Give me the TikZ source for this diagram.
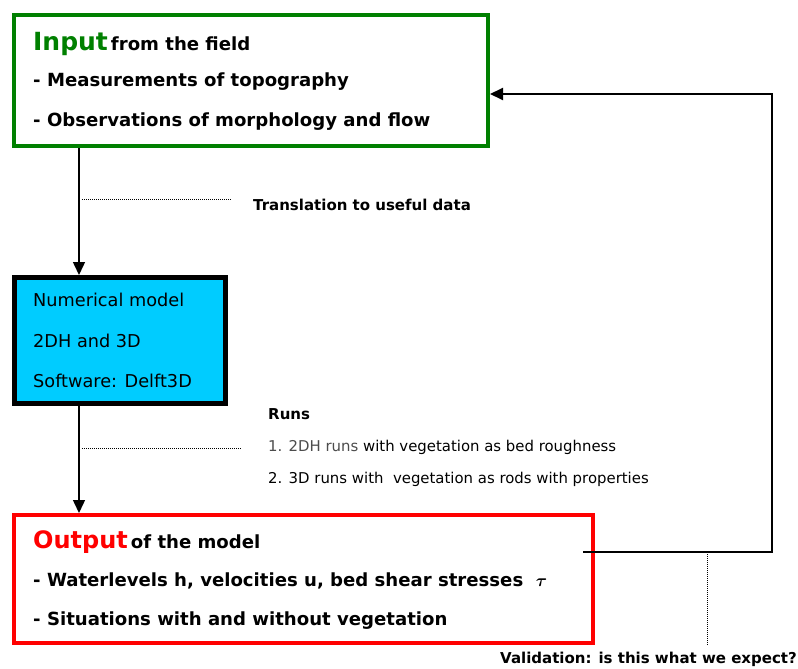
\documentclass[tikz,border=0pt]{standalone}
\usepackage{fontspec}
\setmainfont{DejaVu Sans}
\usetikzlibrary{arrows.meta}
\definecolor{ingreen}{RGB}{0,128,0}
\definecolor{outred}{RGB}{255,0,0}
\definecolor{modelblue}{RGB}{0,204,255}
\tikzset{
  txt/.style={anchor=west, inner sep=0pt, font=\bfseries\fontsize{18.1}{20}\selectfont},
  mtxt/.style={anchor=west, inner sep=0pt, font=\fontsize{17.7}{20}\selectfont},
  small/.style={anchor=west, inner sep=0pt, font=\fontsize{14.9}{16}\selectfont},
  smallb/.style={anchor=west, inner sep=0pt, font=\bfseries\fontsize{15}{16}\selectfont},
  flow/.style={line width=1.5pt, -{Triangle[length=13pt,width=12pt]}},
  note/.style={line width=1pt, dash pattern=on 1pt off 1pt}
}
\begin{document}
\begin{tikzpicture}[x=1pt,y=-1pt]
\useasboundingbox (0,0) rectangle (798,669);
% boxes
\node[draw=ingreen, line width=4pt, minimum width=474pt, minimum height=131pt] (input) at (251,80.5){};
\node[draw=black, fill=modelblue, line width=5pt, minimum width=211pt, minimum height=126pt] (model) at (120,340.5){};
\node[draw=outred, line width=4pt, minimum width=579pt, minimum height=128pt] (output) at (303.5,579){};
% texts in the boxes
\node[txt] (t1) at (33,44){\textcolor{ingreen}{\fontsize{25}{26}\selectfont Input}\,from the field};
\node[txt] (t2) at (33,82){- Measurements of topography};
\node[txt] (t3) at (33,122){- Observations of morphology and flow};
\node[mtxt] (m1) at (33,300){Numerical model};
\node[mtxt] (m2) at (33,341){2DH and 3D};
\node[mtxt] (m3) at (33,381){Software: Delft3D};
\node[txt] (o1) at (33,542){\textcolor{outred}{\fontsize{24}{26}\selectfont Output}\,of the model};
\node[txt] (o2) at (33,581){- Waterlevels h, velocities u, bed shear stresses ~{\boldmath$\tau$}};
\node[txt] (o3) at (33,621){- Situations with and without vegetation};
% side notes
\node[smallb] (trans) at (253,205){Translation to useful data};
\node[smallb] (runs) at (268,414){Runs};
\node[small] (run1) at (268,447){\textcolor{black!70}{1. 2DH runs} with vegetation as bed roughness};
\node[small] (run2) at (268,479){2. 3D runs with \ vegetation as rods with properties};
\node[smallb, anchor=east] (valid) at (797,659){Validation: is this what we expect?};
% connectors
\coordinate (c1) at (79,199);
\coordinate (c2) at (79,448);
\coordinate (fb1) at (583,552);
\coordinate (fb2) at (772,552);
\coordinate (fb3) at (772,94);
\draw[flow] (input.south -| c1) -- (model.north -| c1);
\draw[flow] (model.south -| c2) -- (output.north -| c2);
\draw[note] ([xshift=3pt]c1) -- (232,199);
\draw[note] ([xshift=3pt]c2) -- (242,448);
\draw[flow, line width=2pt] (fb1) -- (fb2) -- (fb3) -- (input.east |- fb3);
\draw[note] (707,554) -- (707,645);
\end{tikzpicture}
\end{document}
